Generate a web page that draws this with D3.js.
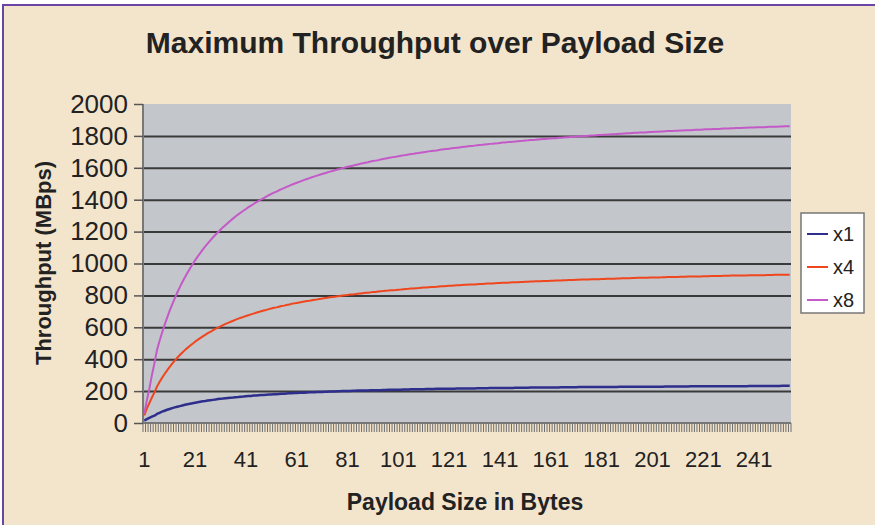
<!DOCTYPE html>
<html><head><meta charset="utf-8">
<script src="https://cdn.jsdelivr.net/npm/d3@7/dist/d3.min.js"></script>
<style>body{margin:0;background:#fff}text{font-family:"Liberation Sans",Arial,sans-serif}</style>
</head><body><svg id="c" width="875" height="525"></svg>
<script>
const payloadSizes = d3.range(1, 256);
const xTickLabels = [1, 21, 41, 61, 81, 101, 121, 141, 161, 181, 201, 221, 241];
const yTickValues = [0, 200, 400, 600, 800, 1000, 1200, 1400, 1600, 1800, 2000];
const seriesNames = ["x1", "x4", "x8"];
const seriesColors = ["#2e2e8c", "#f0461e", "#c45ac8"];

const x1 = [15,24,32,40,46,57,64,71,77,83,
88,93,98,102,106,110,114,118,121,124,
127,130,133,136,138,141,143,145,147,150,
152,153,155,157,159,160,162,163,165,166,
168,169,170,172,173,174,175,176,177,178,
179,180,181,182,183,184,185,186,187,188,
188,189,190,190,191,192,193,193,194,195,
195,196,196,197,198,198,199,199,200,200,
201,201,202,202,203,203,204,204,204,205,
205,206,206,206,207,207,208,208,208,209,
209,209,210,210,210,211,211,211,212,212,
212,213,213,213,213,214,214,214,214,215,
215,215,215,216,216,216,216,217,217,217,
217,218,218,218,218,218,219,219,219,219,
219,220,220,220,220,220,221,221,221,221,
221,221,222,222,222,222,222,223,223,223,
223,223,223,223,224,224,224,224,224,224,
224,225,225,225,225,225,225,225,226,226,
226,226,226,226,226,226,226,227,227,227,
227,227,227,227,227,228,228,228,228,228,
228,228,228,228,228,229,229,229,229,229,
229,229,229,229,229,230,230,230,230,230,
230,230,230,230,230,230,231,231,231,231,
231,231,231,231,231,231,231,231,232,232,
232,232,232,232,232,232,232,232,232,232,
232,233,233,233,233];

const x4 = [48,90,125,160,192,228,257,283,307,330,
352,372,391,409,426,442,457,471,484,497,
510,521,532,543,553,563,572,581,590,598,
606,614,621,628,635,641,648,654,660,665,
671,676,681,686,691,696,701,705,709,714,
718,722,725,729,733,736,740,743,747,750,
753,756,759,762,765,767,770,773,775,778,
780,783,785,788,790,792,794,796,799,801,
803,805,806,808,810,812,814,816,817,819,
821,822,824,826,827,829,830,832,833,834,
836,837,839,840,841,843,844,845,846,848,
849,850,851,852,853,854,856,857,858,859,
860,861,862,863,864,865,866,867,868,868,
869,870,871,872,873,874,875,875,876,877,
878,879,879,880,881,882,882,883,884,884,
885,886,887,887,888,889,889,890,890,891,
892,892,893,894,894,895,895,896,897,897,
898,898,899,899,900,900,901,901,902,902,
903,903,904,904,905,905,906,906,907,907,
908,908,909,909,910,910,910,911,911,912,
912,913,913,913,914,914,915,915,915,916,
916,917,917,917,918,918,918,919,919,919,
920,920,920,921,921,922,922,922,923,923,
923,924,924,924,924,925,925,925,926,926,
926,927,927,927,927,928,928,928,929,929,
929,929,930,930,930];

const x8 = [60,140,215,300,375,457,514,566,615,661,
704,744,782,818,852,884,914,942,969,995,
1020,1043,1065,1087,1107,1126,1145,1163,1180,1196,
1212,1228,1242,1256,1270,1283,1296,1308,1320,1331,
1342,1353,1363,1373,1383,1392,1402,1410,1419,1428,
1436,1444,1451,1459,1466,1473,1480,1487,1494,1500,
1506,1512,1518,1524,1530,1535,1541,1546,1551,1556,
1561,1566,1571,1576,1580,1585,1589,1593,1598,1602,
1606,1610,1613,1617,1621,1625,1628,1632,1635,1639,
1642,1645,1648,1652,1655,1658,1661,1664,1667,1669,
1672,1675,1678,1680,1683,1686,1688,1691,1693,1696,
1698,1700,1703,1705,1707,1709,1712,1714,1716,1718,
1720,1722,1724,1726,1728,1730,1732,1734,1736,1737,
1739,1741,1743,1744,1746,1748,1750,1751,1753,1754,
1756,1758,1759,1761,1762,1764,1765,1767,1768,1769,
1771,1772,1774,1775,1776,1778,1779,1780,1781,1783,
1784,1785,1786,1788,1789,1790,1791,1792,1794,1795,
1796,1797,1798,1799,1800,1801,1802,1803,1804,1805,
1806,1807,1808,1809,1810,1811,1812,1813,1814,1815,
1816,1817,1818,1819,1820,1821,1821,1822,1823,1824,
1825,1826,1826,1827,1828,1829,1830,1830,1831,1832,
1833,1834,1834,1835,1836,1836,1837,1838,1839,1839,
1840,1841,1841,1842,1843,1844,1844,1845,1846,1846,
1847,1848,1848,1849,1849,1850,1851,1851,1852,1853,
1853,1854,1854,1855,1855,1856,1857,1857,1858,1858,
1859,1859,1860,1861,1861];

const seriesValues = [x1, x4, x8];

const svg = d3.select("#c");
const W = 875, H = 525;
const plot = {left: 143, right: 791, top: 104, bottom: 423};

// background and frame
svg.append("rect").attr("x", 4).attr("y", 6).attr("width", W - 4).attr("height", H - 6).attr("fill", "#f3e4cc");
svg.append("line").attr("x1", 3).attr("x2", 3).attr("y1", 5).attr("y2", H).attr("stroke", "#6c44a4").attr("stroke-width", 2);
svg.append("line").attr("x1", 2).attr("x2", W).attr("y1", 5).attr("y2", 5).attr("stroke", "#6c44a4").attr("stroke-width", 2);

const x = d3.scaleBand().domain(payloadSizes).range([plot.left, plot.right]).padding(0);
const y = d3.scaleLinear().domain([0, 2000]).range([plot.bottom, plot.top]);
const cx = d => x(d) + x.bandwidth() / 2;

svg.append("rect").attr("x", plot.left).attr("y", plot.top)
  .attr("width", plot.right - plot.left).attr("height", plot.bottom - plot.top).attr("fill", "#c3c6ca");

// gridlines
const grid = svg.append("g").attr("transform", `translate(${plot.left},0)`)
  .call(d3.axisLeft(y).tickValues(yTickValues.filter(v => v > 0 && v < 2000)).tickSize(-(plot.right - plot.left)).tickFormat(""));
grid.select(".domain").remove();
grid.selectAll("line").attr("stroke", "#3a3a3a").attr("stroke-width", 2);

// category tick marks
svg.append("g").selectAll("line").data(payloadSizes.concat([null])).join("line")
  .attr("x1", d => d === null ? plot.right : x(d)).attr("x2", d => d === null ? plot.right : x(d))
  .attr("y1", plot.bottom).attr("y2", plot.bottom + 9)
  .attr("stroke", "#6e6e6e").attr("stroke-width", 1);

// lines
const line = d3.line().x((d, i) => cx(payloadSizes[i])).y(d => y(d));
seriesValues.forEach((vals, k) => {
  svg.append("path").datum(vals).attr("d", line).attr("fill", "none")
    .attr("stroke", seriesColors[k]).attr("stroke-width", k === 0 ? 2.5 : 2).attr("stroke-linejoin", "round");
});

// y axis
const ya = svg.append("g").attr("transform", `translate(${plot.left},0)`)
  .call(d3.axisLeft(y).tickValues(yTickValues).tickSize(9).tickPadding(6).tickFormat(d3.format("d")));
ya.select(".domain").attr("stroke", "#777").attr("stroke-width", 2).attr("d", `M0,${plot.top}V${plot.bottom}`);
ya.selectAll("line").attr("stroke", "#555").attr("stroke-width", 1.5);
ya.selectAll("text").attr("font-size", 26).attr("fill", "#222").attr("font-family", "Liberation Sans, Arial, sans-serif");

// x axis line + labels
svg.append("line").attr("x1", plot.left).attr("x2", plot.right).attr("y1", plot.bottom).attr("y2", plot.bottom)
  .attr("stroke", "#777").attr("stroke-width", 2);
const xa = svg.append("g").attr("transform", `translate(0,${plot.bottom})`)
  .call(d3.axisBottom(x).tickValues(xTickLabels).tickSize(0).tickPadding(28));
xa.select(".domain").remove();
xa.selectAll("text").attr("font-size", 22).attr("fill", "#222").attr("font-family", "Liberation Sans, Arial, sans-serif");

// titles
svg.append("text").attr("x", 435).attr("y", 53).attr("text-anchor", "middle")
  .attr("font-size", 30).attr("font-weight", "bold").attr("fill", "#222").text("Maximum Throughput over Payload Size");
svg.append("text").attr("x", 465).attr("y", 510).attr("text-anchor", "middle")
  .attr("font-size", 23).attr("font-weight", "bold").attr("fill", "#222").text("Payload Size in Bytes");
svg.append("text").attr("transform", "translate(51,263) rotate(-90)").attr("text-anchor", "middle")
  .attr("font-size", 22).attr("font-weight", "bold").attr("fill", "#222").text("Throughput (MBps)");

// legend
const lg = svg.append("g");
lg.append("rect").attr("x", 801).attr("y", 213).attr("width", 63).attr("height", 100)
  .attr("fill", "#fff").attr("stroke", "#777").attr("stroke-width", 1.5);
seriesNames.forEach((name, k) => {
  const yy = 234 + k * 33;
  lg.append("line").attr("x1", 807).attr("x2", 828).attr("y1", yy).attr("y2", yy)
    .attr("stroke", seriesColors[k]).attr("stroke-width", 2);
  lg.append("text").attr("x", 833).attr("y", yy + 7).attr("font-size", 20).attr("fill", "#222").text(name);
});
</script></body></html>
